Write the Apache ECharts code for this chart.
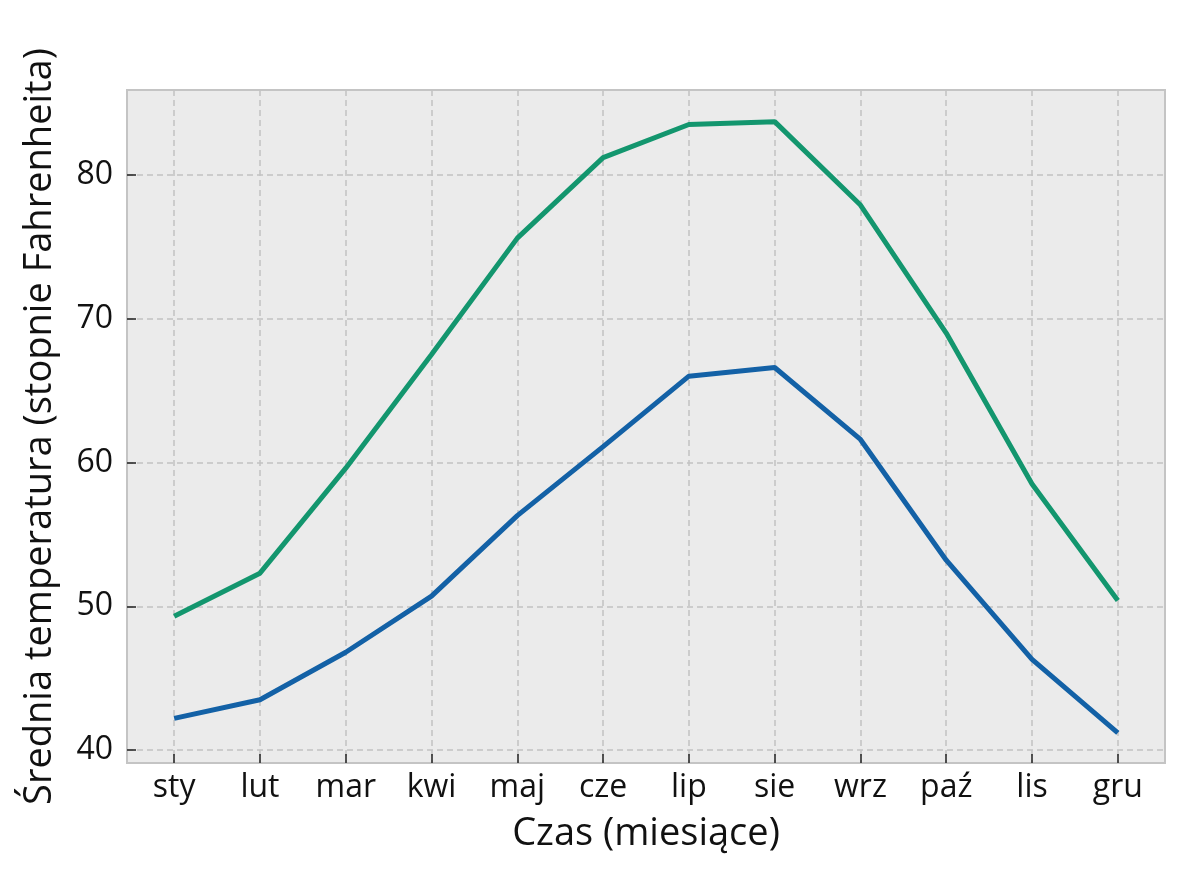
<!DOCTYPE html>
<html>
<head>
<meta charset="UTF-8">
<title></title>
<script src="https://cdn.jsdelivr.net/npm/echarts@6/dist/echarts.min.js"></script>
<style>
  html, body { margin: 0; padding: 0; background: #fff; }
  #chart { width: 1185px; height: 880px; }
</style>
</head>
<body>
<div id="chart"></div>
<script>
// miesiące
var months = ['sty', 'lut', 'mar', 'kwi', 'maj', 'cze', 'lip', 'sie', 'wrz', 'paź', 'lis', 'gru'];
var highTemps = [49.3, 52.3, 59.6, 67.5, 75.6, 81.2, 83.5, 83.7, 77.9, 69.0, 58.5, 50.4];
var lowTemps = [42.2, 43.5, 46.8, 50.7, 56.3, 61.1, 66.0, 66.6, 61.6, 53.2, 46.3, 41.2];
var yTicks = [40, 50, 60, 70, 80];
var xTicks = months.map(function (m, i) { return i; });

function pairs(vals) {
    return vals.map(function (v, i) { return [i, v]; });
}

var chart = echarts.init(document.getElementById('chart'));
var font = 'Open Sans';
var tickStyle = { color: '#222', width: 1.5 };
chart.setOption({
    animation: false,
    grid: {
        left: 127, right: 20, top: 90, bottom: 117,
        show: true,
        backgroundColor: '#ebebeb',
        borderColor: '#c4c4c4',
        borderWidth: 2
    },
    xAxis: {
        type: 'value',
        min: -0.55,
        max: 11.55,
        name: 'Czas (miesiące)',
        nameLocation: 'middle',
        nameGap: 52,
        nameTextStyle: { fontFamily: font, fontSize: 38, color: '#111' },
        axisLine: { show: true, onZero: false, lineStyle: { color: '#c4c4c4', width: 2 } },
        axisTick: { show: true, inside: true, customValues: xTicks, length: 9, lineStyle: tickStyle },
        axisLabel: {
            customValues: xTicks,
            margin: 9,
            fontFamily: font, fontSize: 32, color: '#111',
            formatter: function (v) { return months[Math.round(v)]; }
        },
        splitLine: { show: true, lineStyle: { color: '#c2c2c2', width: 1.5, type: [6, 4] } }
    },
    yAxis: {
        type: 'value',
        min: 39.1,
        max: 85.9,
        name: 'Średnia temperatura (stopnie Fahrenheita)',
        nameLocation: 'middle',
        nameGap: 68,
        nameTextStyle: { fontFamily: font, fontSize: 38, color: '#111' },
        axisLine: { show: true, onZero: false, lineStyle: { color: '#c4c4c4', width: 2 } },
        axisTick: { show: true, inside: true, customValues: yTicks, length: 9, lineStyle: tickStyle },
        axisLabel: {
            customValues: yTicks,
            margin: 14,
            fontFamily: font, fontSize: 32, color: '#111'
        },
        splitLine: { show: true, lineStyle: { color: '#c2c2c2', width: 1.5, type: [6, 4] } }
    },
    series: [
        {
            type: 'line',
            data: pairs(highTemps),
            showSymbol: false,
            lineStyle: { color: '#13966e', width: 5 },
            z: 3
        },
        {
            type: 'line',
            data: pairs(lowTemps),
            showSymbol: false,
            lineStyle: { color: '#1361a6', width: 5 },
            z: 3
        }
    ]
});
</script>
</body>
</html>
